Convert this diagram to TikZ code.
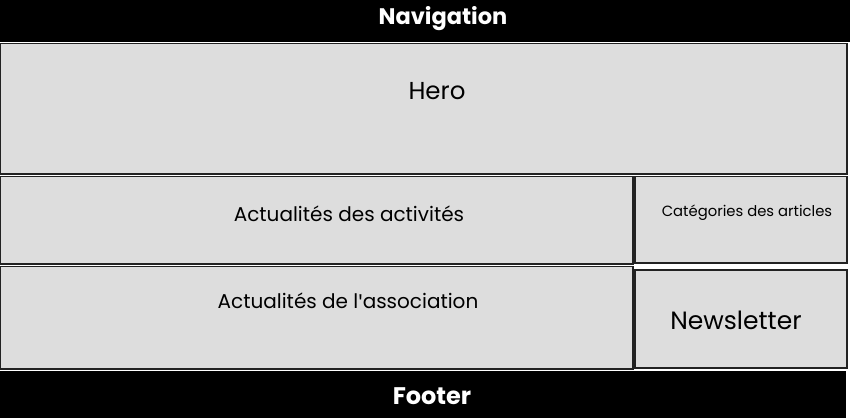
\documentclass[tikz,border=0pt]{standalone}
\usepackage{fontspec}
\setmainfont{Poppins}
\newfontfamily\aposfont{Fira Sans}
\definecolor{boxgray}{HTML}{DDDDDD}
\definecolor{edge}{HTML}{222222}
\begin{document}
\begin{tikzpicture}[x=1pt,y=-1pt,
  panel/.style={draw=edge,line width=1.3pt,fill=boxgray},
  band/.style={fill=black},
  lbl/.style={font=\fontsize{20}{24}\selectfont,text=black,inner sep=0pt},
  blbl/.style={font=\fontsize{22.5}{26}\selectfont\bfseries,text=white,inner sep=0pt}]
\useasboundingbox[fill=white] (0,0) rectangle (850,418);
\fill[band] (0,0) rectangle (850,42);
\node[blbl] (nav) at (443,19) {Navigation};
\draw[panel] (0,43.5) rectangle (847,174);
\node[lbl,font=\fontsize{24.5}{28}\selectfont] (hero) at (437,91) {Hero};
\draw[panel] (0,176.5) rectangle (633,264);
\node[lbl] (act) at (349,214) {Actualités des activités};
\draw[panel] (635,176.5) rectangle (847,263);
\node[lbl,font=\fontsize{14.8}{18}\selectfont] (cat) at (747,213) {Catégories des articles};
\draw[panel] (0,266.5) rectangle (633,369);
\node[lbl] (asso) at (348,301) {Actualités de l{\aposfont\char39}association};
\draw[panel] (635,270) rectangle (847,368);
\node[lbl,font=\fontsize{25}{29}\selectfont] (news) at (736,320) {Newsletter};
\fill[band] (0,371) rectangle (846,418);
\node[blbl,font=\fontsize{24}{28}\selectfont\bfseries] (foot) at (432,396) {Footer};
\end{tikzpicture}
\end{document}
